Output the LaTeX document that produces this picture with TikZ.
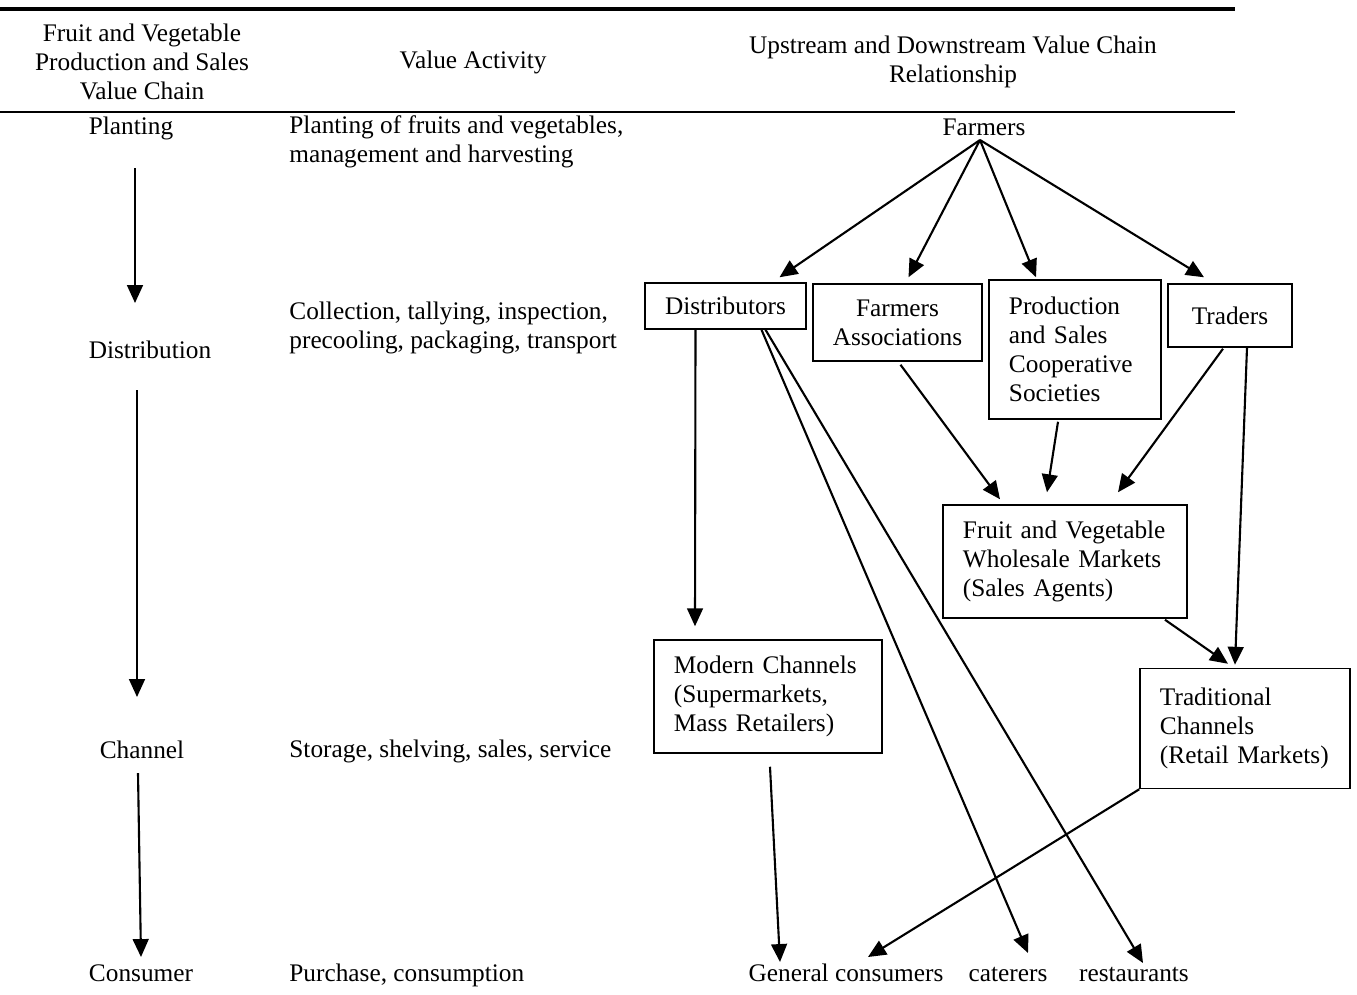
\documentclass[tikz,border=0pt]{standalone}
\usepackage{fontspec}
\setmainfont{Liberation Serif}
\usetikzlibrary{arrows.meta}
\begin{document}
\begin{tikzpicture}[x=0.016667cm,y=-0.016667cm,
  every node/.style={font=\fontsize{12}{13.8}\selectfont},
  txt/.style={inner sep=0pt,align=center},
  act/.style={inner sep=0pt,align=left,anchor=west},
  box/.style={draw,line width=0.7pt,inner xsep=0.333cm,inner ysep=0pt},
  arr/.style={draw,line width=1pt,-{Triangle[length=8.5pt,width=7.5pt]}}]
\useasboundingbox (0,0) rectangle (1357,994);

% table rules and header
\draw[line width=1.9pt] (0,9) -- (1235,9);
\draw[line width=1pt] (0,112) -- (1235,112);
\node[txt] (chainhead) at (142,62) {Fruit and Vegetable\\Production and Sales\\Value Chain};
\node[txt] (acthead) at (473,62) {Value Activity};
\node[txt] (relhead) at (953,62) {Upstream and Downstream Value Chain\\Relationship};

% stages
\node[txt] (planting) at (131,128) {Planting};
\node[txt] (distribution) at (150,350) {Distribution};
\node[txt] (channel) at (142,750) {Channel};
\node[txt,anchor=base] (consumer) at (141,981) {Consumer};

\node[act] (act1) at (289,142) {Planting of fruits and vegetables,\\management and harvesting};
\node[act] (act2) at (289,328) {Collection, tallying, inspection,\\precooling, packaging, transport};
\node[act] (act3) at (289,751) {Storage, shelving, sales, service};
\node[act,anchor=base west] (act4) at (289,981) {Purchase, consumption};

\draw[arr] ([shift={(4,40)}]planting.center) -- ([shift={(-15,-47)}]distribution.center);
\draw[arr] ([shift={(-13,40)}]distribution.center) -- ([shift={(-5,-53)}]channel.center);
\draw[arr] ([shift={(-4,23)}]channel.center) -- ([shift={(0,-24)}]consumer.base);

% value chain relationship
\node[txt] (farmers) at (984,127) {Farmers};
\coordinate (fo) at (980,140);
\node[box,align=center,minimum width=2.683cm,minimum height=0.767cm] (dist) at (725.5,306) {Distributors};
\node[box,align=center,minimum width=2.75cm,minimum height=1.283cm] (fa) at (897.5,322.5) {Farmers\\Associations};
\node[box,align=left,text width=2.2cm,minimum height=2.317cm] (ps) at (1075,349.5) {Production\\and Sales\\Cooperative\\Societies};
\node[box,align=center,minimum width=2.067cm,minimum height=1.05cm] (tr) at (1230,315.5) {Traders};
\node[box,align=left,text width=3.4cm,minimum height=1.883cm] (ws) at (1065,561.5) {Fruit and Vegetable\\Wholesale Markets\\(Sales Agents)};
\node[box,align=left,text width=3.133cm,minimum height=1.883cm] (mc) at (768,696.5) {Modern Channels\\(Supermarkets,\\Mass Retailers)};
\node[box,align=left,text width=2.833cm,minimum height=2cm] (tc) at (1245,728.5) {Traditional\\Channels\\(Retail Markets)};

\node[txt,anchor=base] (gc) at (846,981) {General consumers};
\node[txt,anchor=base] (cat) at (1008,981) {caterers};
\node[txt,anchor=base] (rest) at (1134,981) {restaurants};

\draw[arr] (fo) -- ([shift={(54,-5)}]dist.north);
\draw[arr] (fo) -- ([shift={(11,-6)}]fa.north);
\draw[arr] (fo) -- ([shift={(-39,-2)}]ps.north);
\draw[arr] (fo) -- ([shift={(-26,-6)}]tr.north);

\draw[arr] ([shift={(-30,0)}]dist.south) -- ([shift={(-73,-13)}]mc.north);
\draw[arr] ([shift={(36,0)}]dist.south) -- ([shift={(20,-28)}]cat.base);
\draw[arr] ([shift={(40,0)}]dist.south) -- ([shift={(9,-18)}]rest.base);

\draw[arr] ([shift={(3,3)}]fa.south) -- ([shift={(-65,-5)}]ws.north);
\draw[arr] ([shift={(-17,2)}]ps.south) -- ([shift={(-18,-12)}]ws.north);
\draw[arr] ([shift={(-7,1)}]tr.south) -- ([shift={(53,-12)}]ws.north);
\draw[arr] ([shift={(17,0)}]tr.south) -- ([shift={(-10,-3)}]tc.north);
\draw[arr] ([shift={(100,1)}]ws.south) -- ([shift={(-17,-4)}]tc.north);

\draw[arr] ([shift={(2,13)}]mc.south) -- ([shift={(-66,-19)}]gc.base);
\draw[arr] (tc.south west) -- ([shift={(22,-24)}]gc.base);
\end{tikzpicture}
\end{document}
